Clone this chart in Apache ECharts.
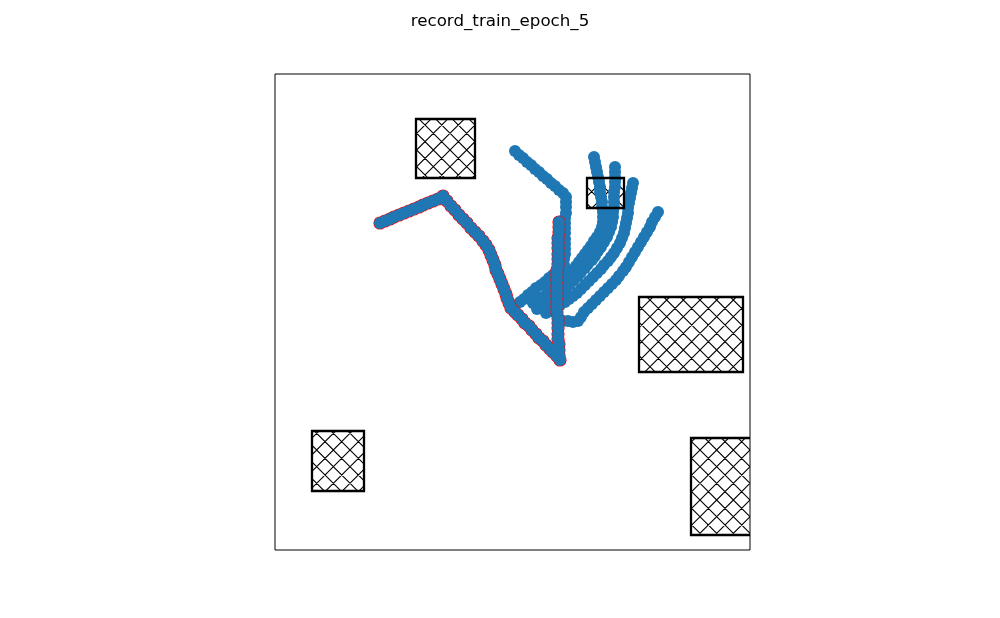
<!DOCTYPE html>
<html>
<head>
<meta charset="utf-8">
<script src="https://cdn.jsdelivr.net/npm/echarts@6/dist/echarts.min.js"></script>
<style>html,body{margin:0;padding:0;background:#fff}#chart{width:1000px;height:618px}</style>
</head>
<body>
<div id="chart"></div>
<script>
// Obstacles: [x0, y0, x1, y1] in map units
const obstacles = [
  [141, 372, 200, 431],
  [312, 342, 349, 372],
  [364, 178, 468, 253],
  [37, 59, 89, 119],
  [416, 15, 482, 112]
];

// Highlighted trajectory (red edges)
const trajRed = [
  [105,327],[110,329],[115,331],[119,333],[124,335],[129,337],[134,339],[139,341],[144,343],[148,345],[153,347],[158,349],[163,351],[168,354],
  [172,349],[176,344],[180,340],[184,335],[188,331],[192,327],[196,322],[200,318],[204,314],[208,309],[211,305],[214,300],
  [216,295],[218,290],[220,285],[221,280],[223,276],[225,271],[227,266],[229,261],[231,256],[232,252],[234,247],[236,242],
  [240,238],[243,235],[247,231],[250,227],[254,224],[257,220],[261,216],[264,212],[268,209],[271,205],[275,201],[278,198],[282,194],[285,190],
  [284,195],[284,200],[284,206],[283,211],[283,216],[283,222],[283,227],[283,232],[282,238],[282,243],[282,248],[282,254],[282,259],[282,264],
  [282,270],[282,275],[282,280],[283,286],[283,291],[283,296],[283,302],[283,307],[283,312],[284,318],[284,323],[284,328]
];

const trajB = [
  [240,399],[244,395],[248,392],[252,388],[256,385],[260,381],[264,378],[268,374],[272,371],[276,367],[280,364],[284,360],[288,357],[291,353],
  [291,348],[291,343],[291,337],[290,332],[290,327],[290,322],[290,317],[290,311],[290,306],[290,301],[290,296],[289,291],[289,285],
  [286,282],[282,279],[278,275],[274,272],[270,268],[266,265],[261,262],[257,258],[253,255],[249,251],[245,248]
];

const trajT1 = [
  [319,393],[320,388],[321,383],[322,378],[323,373],[324,368],[325,363],[325,358],[326,353],[327,348],[327,343],[328,338],[328,333],[328,328],
  [327,323],[325,318],[322,313],[319,309],[316,304],[313,300],[310,296],[307,292],[304,288],[301,284],[298,280],[294,276],[291,272],[287,269],
  [283,265],[279,262],[275,258],[271,255],[266,252],[262,250],[258,247]
];

const trajT2 = [
  [340,383],[340,378],[340,373],[340,368],[340,363],[339,358],[339,353],[339,348],[339,343],[338,338],[338,333],[337,328],[336,323],[334,318],
  [332,313],[329,308],[326,303],[323,299],[320,294],[317,290],[313,286],[310,282],[306,278],[303,274],[299,270],[295,266],[291,262],[287,259],
  [283,255],[279,252],[275,249],[271,246],[266,243],[262,241]
];

const trajT3 = [
  [358,367],[357,362],[356,357],[355,352],[354,347],[353,342],[353,337],[352,332],[351,327],[350,322],[349,317],[347,312],[345,307],[342,302],
  [339,297],[336,293],[333,289],[329,285],[326,281],[322,277],[318,273],[314,269],[310,265],[306,261],[302,257],[298,254],[294,251],[290,248],
  [285,245],[281,242],[276,239],[271,237]
];

const trajT4 = [
  [383,338],[380,333],[377,328],[375,323],[372,318],[369,313],[366,308],[363,303],[360,298],[357,293],[354,288],[351,283],[348,279],[344,274],
  [341,270],[337,266],[333,262],[329,258],[325,254],[321,250],[317,246],[313,242],[309,238],[306,233],[303,229],[298,228],[293,229],[288,229],[283,230]
];

const blueTrajs = [trajB, trajT1, trajT2, trajT3, trajT4];
const titleText = 'record_train_epoch_5';

function makeHatch() {
  const s = 50;
  const c = document.createElement('canvas');
  c.width = s; c.height = s;
  const g = c.getContext('2d');
  g.strokeStyle = '#000';
  g.lineWidth = 1.1;
  const step = s / 3;
  g.beginPath();
  for (let k = -4; k <= 8; k++) {
    const o = k * step;
    g.moveTo(o, 0); g.lineTo(o + s, s);
    g.moveTo(o, s); g.lineTo(o + s, 0);
  }
  g.stroke();
  return c;
}
const hatchCanvas = makeHatch();

function rectRender(withFill) {
  return function (params, api) {
    const p0 = api.coord([api.value(0), api.value(3)]);
    const p1 = api.coord([api.value(2), api.value(1)]);
    return {
      type: 'rect',
      shape: { x: p0[0], y: p0[1], width: p1[0] - p0[0], height: p1[1] - p0[1] },
      style: withFill
        ? { fill: { image: hatchCanvas, repeat: 'repeat' }, stroke: null }
        : { fill: null, stroke: '#000', lineWidth: 2.3 }
    };
  };
}

const chart = echarts.init(document.getElementById('chart'), null, { renderer: 'canvas' });
const series = [
  { type: 'custom', renderItem: rectRender(true), data: obstacles, clip: true, z: 1, silent: true }
];
blueTrajs.forEach(function (t) {
  series.push({
    type: 'scatter', data: t, symbol: 'circle', symbolSize: 12, z: 2,
    itemStyle: { color: '#1f77b4', opacity: 1 }, silent: true
  });
});
// red outline of highlighted trajectory, then its blue fill on top
series.push({
  type: 'scatter', data: trajRed, symbol: 'circle', symbolSize: 12, z: 3,
  itemStyle: { color: '#1f77b4', borderColor: '#ff0000', borderWidth: 1.2, opacity: 1 }, silent: true
});
series.push({
  type: 'scatter', data: trajRed, symbol: 'circle', symbolSize: 12, z: 4,
  itemStyle: { color: '#1f77b4', borderWidth: 0, opacity: 1 }, silent: true
});
series.push({
  type: 'custom', renderItem: rectRender(false), data: obstacles, clip: true, z: 5, silent: true
});

chart.setOption({
  animation: false,
  backgroundColor: '#fff',
  title: {
    text: titleText, left: 'center', top: 8,
    textStyle: { fontFamily: 'DejaVu Sans', fontSize: 16.7, fontWeight: 'normal', color: '#000' }
  },
  grid: { left: 275, top: 74, width: 475, height: 476, show: true, borderColor: '#000', borderWidth: 1, backgroundColor: 'transparent' },
  xAxis: { type: 'value', min: 0, max: 475, show: false },
  yAxis: { type: 'value', min: 0, max: 476, show: false },
  series: series
});
</script>
</body>
</html>
